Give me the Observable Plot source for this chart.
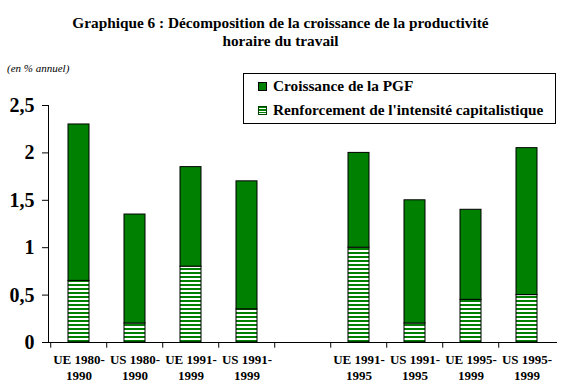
<!DOCTYPE html>
<html><head><meta charset="utf-8">
<script src="https://cdn.jsdelivr.net/npm/d3@7"></script>
<script src="https://cdn.jsdelivr.net/npm/@observablehq/plot@0.6"></script>
<style>
html,body{margin:0;padding:0;background:#fff;}
body{width:561px;height:392px;position:relative;overflow:hidden;font-family:"Liberation Serif","Times New Roman",serif;color:#000;}
#chart{position:absolute;left:0;top:0;}
#title{position:absolute;left:0;width:561px;top:14px;text-align:center;font-weight:bold;font-size:15.3px;line-height:18px;}
#unit{position:absolute;left:7px;top:61px;font-style:italic;font-size:11px;line-height:14px;}
#legend{position:absolute;left:243px;top:73px;width:311px;height:49px;border:1px solid #000;background:#fff;font-weight:bold;font-size:15.3px;}
.row{position:absolute;left:14px;height:18px;line-height:18px;display:flex;align-items:center;white-space:nowrap;}
.sw{width:7px;height:7px;margin-right:6px;}
.sw1{background:#008000;border:1px solid #000;}
.sw2{border:1px solid #004000;background:repeating-linear-gradient(#008000 0 1.5px,#fff 1.5px 2.5px);}
</style></head>
<body>
<div id="chart"></div>
<div id="title">Graphique 6 : Décomposition de la croissance de la productivité<br>horaire du travail</div>
<div id="unit">(en % annuel)</div>
<div id="legend">
  <div class="row" style="top:3px"><div class="sw sw1"></div>Croissance de la PGF</div>
  <div class="row" style="top:27px"><div class="sw sw2"></div>Renforcement de l'intensité capitalistique</div>
</div>
<script>
const categories = ["UE 1980-\n1990","US 1980-\n1990","UE 1991-\n1999","US 1991-\n1999","","UE 1991-\n1995","US 1991-\n1995","UE 1995-\n1999","US 1995-\n1999"];
const pgf =     [1.65, 1.15, 1.05, 1.35, null, 1.0, 1.3, 0.95, 1.55];
const capital = [0.65, 0.20, 0.80, 0.35, null, 1.0, 0.2, 0.45, 0.50];
const seriesNames = ["Renforcement de l'intensité capitalistique","Croissance de la PGF"];
const yTicks = [0,0.5,1,1.5,2,2.5];

const rows = [];
categories.forEach((c,i)=>{ if(capital[i]!=null) rows.push({cat:c, series:seriesNames[0], value:capital[i]}); });
categories.forEach((c,i)=>{ if(pgf[i]!=null) rows.push({cat:c, series:seriesNames[1], value:pgf[i]}); });

const W=561, ML=48, MR=4;
const step=(W-ML-MR)/categories.length;

const plot = Plot.plot({
  width:W, height:392,
  marginLeft:ML, marginRight:MR, marginTop:105, marginBottom:50,
  style:{fontFamily:"'Liberation Serif','Times New Roman',serif", color:"#000", background:"transparent"},
  x:{domain:categories, paddingInner:0.63, paddingOuter:0.315, label:null},
  y:{domain:[0,2.5], label:null},
  color:{domain:seriesNames, range:["url(#stripes)","#008000"]},
  marks:[
    Plot.barY(rows,{x:"cat", y:"value", fill:"series", stroke:"#000", strokeWidth:1}),
    Plot.axisY({ticks:yTicks, tickSize:6, tickPadding:8, fontSize:20, fontWeight:"bold", tickFormat:d=>String(d).replace(".",","), label:null}),
    Plot.axisX({tickSize:0, tickPadding:10, fontSize:13, fontWeight:"bold", lineHeight:1.23, label:null}),
    Plot.ruleX(categories,{x:d=>d, y1:0, y2:-0.06, dx:-step/2, stroke:"#000"}),
    Plot.ruleY([0],{stroke:"#000"}),
    Plot.frame({anchor:"left", stroke:"#000"})
  ]
});
const defs = document.createElementNS("http://www.w3.org/2000/svg","defs");
defs.innerHTML = '<pattern id="stripes" patternUnits="userSpaceOnUse" width="4" height="4"><rect width="4" height="4" fill="#fff"/><rect width="4" height="2" fill="#008000"/></pattern>';
plot.insertBefore(defs, plot.firstChild);
document.getElementById("chart").appendChild(plot);
</script>
</body></html>
